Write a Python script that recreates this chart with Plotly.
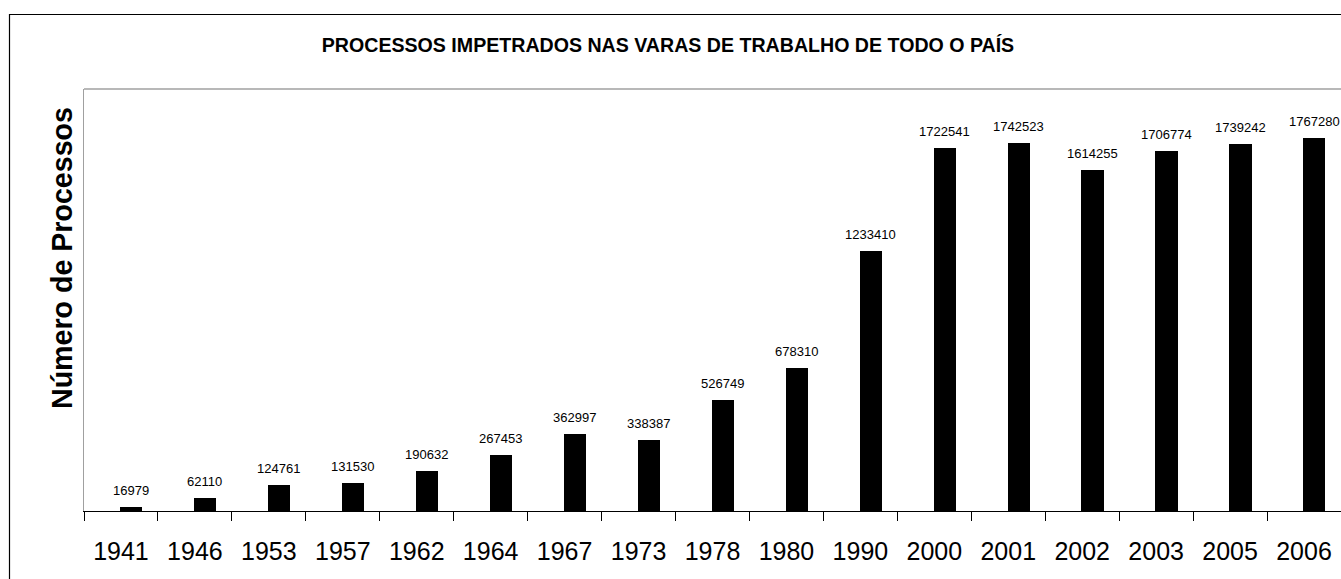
import plotly.graph_objects as go

years = ["1941", "1946", "1953", "1957", "1962", "1964", "1967", "1973", "1978",
         "1980", "1990", "2000", "2001", "2002", "2003", "2005", "2006"]
processos = [16979, 62110, 124761, 131530, 190632, 267453, 362997, 338387, 526749,
             678310, 1233410, 1722541, 1742523, 1614255, 1706774, 1739242, 1767280]

title_text = "PROCESSOS IMPETRADOS NAS VARAS DE TRABALHO DE TODO O PAÍS"
y_title = "Número de Processos"
FONT = "Arial, Liberation Sans, sans-serif"

W, H = 1341, 579
L, T, B = 84, 89, 68
plot_w = W - L
plot_h = H - T - B

fig = go.Figure()
fig.add_trace(go.Bar(
    x=years, y=processos,
    width=0.3, offset=-0.01,
    marker=dict(color="black", line=dict(width=0)),
    hoverinfo="x+y",
))

annotations = []
for i, v in enumerate(processos):
    annotations.append(dict(
        x=i, y=v, xref="x", yref="y", text=str(v), showarrow=False,
        yanchor="bottom", xanchor="center", xshift=10, yshift=7,
        font=dict(family=FONT, size=13, color="black"),
    ))

# y axis title
annotations.append(dict(
    x=(62 - L) / plot_w, y=(H - B - 258) / plot_h, xref="paper", yref="paper",
    text="<b>%s</b>" % y_title, textangle=-90, showarrow=False,
    xanchor="center", yanchor="middle",
    font=dict(family=FONT, size=28.6, color="black"),
))

shapes = [
    # outer chart border
    dict(type="rect", xref="paper", yref="paper",
         x0=(9.5 - L) / plot_w, x1=1.05, y0=-0.5, y1=(H - B - 14.5) / plot_h,
         line=dict(color="black", width=1.2), fillcolor="rgba(0,0,0,0)", layer="below"),
    # plot area top border
    dict(type="line", xref="paper", yref="paper", x0=0, x1=1, y0=1, y1=1,
         line=dict(color="#a0a0a0", width=1.3)),
]

fig.update_layout(
    width=W, height=H,
    margin=dict(l=L, r=0, t=T, b=B),
    paper_bgcolor="white", plot_bgcolor="white",
    showlegend=False,
    title=dict(text="<b>%s</b>" % title_text, x=668 / W, xref="container",
               xanchor="center", y=1 - 45 / H, yref="container", yanchor="middle",
               font=dict(family=FONT, size=19.6, color="black")),
    annotations=annotations,
    shapes=shapes,
    bargap=0,
)
fig.update_xaxes(
    type="category", range=[-0.5, len(years) - 0.5],
    showline=True, linecolor="black", linewidth=1.3,
    ticks="outside", tickson="boundaries", ticklen=9, tickcolor="black", tickwidth=1,
    ticklabelstandoff=18,
    tickfont=dict(family=FONT, size=25, color="black"),
    showgrid=False, zeroline=False,
)
fig.update_yaxes(
    range=[0, 2000000], showticklabels=False, ticks="",
    showline=True, linecolor="#a0a0a0", linewidth=1.3,
    showgrid=False, zeroline=False,
)

fig.write_html(
    "out.html",
    config={"displayModeBar": False},
    post_script="document.body.style.margin='0px';document.body.style.overflow='hidden';",
)
